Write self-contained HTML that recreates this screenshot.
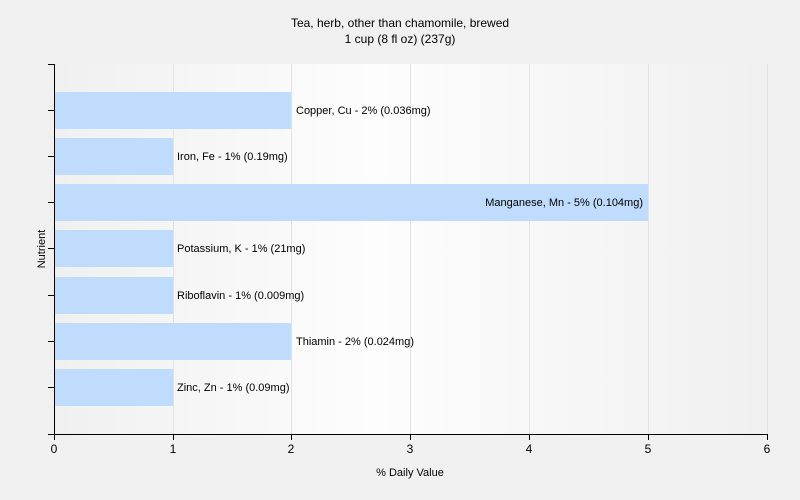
<!DOCTYPE html>
<html><head><meta charset="utf-8"><style>
body{margin:0;background:#f0f0f0;}
svg{display:block;font-family:"Liberation Sans",sans-serif;}
</style></head><body>
<svg width="800" height="500" viewBox="0 0 800 500">
<defs><linearGradient id="g" x1="0" x2="1" y1="0" y2="0">
<stop offset="0" stop-color="#f0f0f0"/><stop offset="0.45" stop-color="#fdfdfd"/><stop offset="1" stop-color="#f0f0f0"/></linearGradient></defs>
<rect width="800" height="500" fill="#f0f0f0"/>
<rect x="54" y="64" width="713" height="370" fill="url(#g)"/>
<g stroke="#e2e2e2" stroke-width="1">
<line x1="173.5" y1="64" x2="173.5" y2="434"/><line x1="291.5" y1="64" x2="291.5" y2="434"/>
<line x1="410.5" y1="64" x2="410.5" y2="434"/><line x1="529.5" y1="64" x2="529.5" y2="434"/>
<line x1="648.5" y1="64" x2="648.5" y2="434"/><line x1="767.5" y1="64" x2="767.5" y2="434"/>
</g>
<g fill="#bfdcfd">
<rect x="55" y="92" width="236" height="37"/>
<rect x="55" y="138" width="118" height="37"/>
<rect x="55" y="184" width="593" height="37"/>
<rect x="55" y="230" width="118" height="37"/>
<rect x="55" y="277" width="118" height="37"/>
<rect x="55" y="323" width="236" height="37"/>
<rect x="55" y="369" width="118" height="37"/>
</g>
<g font-size="11" fill="#000">
<text x="296" y="114">Copper, Cu - 2% (0.036mg)</text>
<text x="177" y="160">Iron, Fe - 1% (0.19mg)</text>
<text x="643" y="206" text-anchor="end">Manganese, Mn - 5% (0.104mg)</text>
<text x="177" y="252">Potassium, K - 1% (21mg)</text>
<text x="177" y="299">Riboflavin - 1% (0.009mg)</text>
<text x="296" y="345">Thiamin - 2% (0.024mg)</text>
<text x="177" y="391">Zinc, Zn - 1% (0.09mg)</text>
</g>
<g stroke="#000" stroke-width="1">
<line x1="54.5" y1="64" x2="54.5" y2="435"/>
<line x1="54" y1="434.5" x2="767" y2="434.5"/>
<line x1="48" y1="64.5" x2="54" y2="64.5"/><line x1="48" y1="110.5" x2="54" y2="110.5"/>
<line x1="48" y1="156.5" x2="54" y2="156.5"/><line x1="48" y1="202.5" x2="54" y2="202.5"/>
<line x1="48" y1="248.5" x2="54" y2="248.5"/><line x1="48" y1="295.5" x2="54" y2="295.5"/>
<line x1="48" y1="341.5" x2="54" y2="341.5"/><line x1="48" y1="387.5" x2="54" y2="387.5"/>
<line x1="48" y1="434.5" x2="54" y2="434.5"/>
<line x1="54.5" y1="434" x2="54.5" y2="440"/><line x1="173.5" y1="434" x2="173.5" y2="440"/>
<line x1="291.5" y1="434" x2="291.5" y2="440"/><line x1="410.5" y1="434" x2="410.5" y2="440"/>
<line x1="529.5" y1="434" x2="529.5" y2="440"/><line x1="648.5" y1="434" x2="648.5" y2="440"/>
<line x1="767.5" y1="434" x2="767.5" y2="440"/>
</g>
<g font-size="12" text-anchor="middle" fill="#000">
<text x="54" y="453">0</text><text x="173" y="453">1</text><text x="291" y="453">2</text>
<text x="410" y="453">3</text><text x="529" y="453">4</text><text x="648" y="453">5</text><text x="767" y="453">6</text>
<text x="400" y="27">Tea, herb, other than chamomile, brewed</text>
<text x="400" y="43">1 cup (8 fl oz) (237g)</text>
</g>
<text x="410" y="476" font-size="11" text-anchor="middle">% Daily Value</text>
<text transform="translate(45,249) rotate(-90)" font-size="11" text-anchor="middle">Nutrient</text>
</svg>
</body></html>
